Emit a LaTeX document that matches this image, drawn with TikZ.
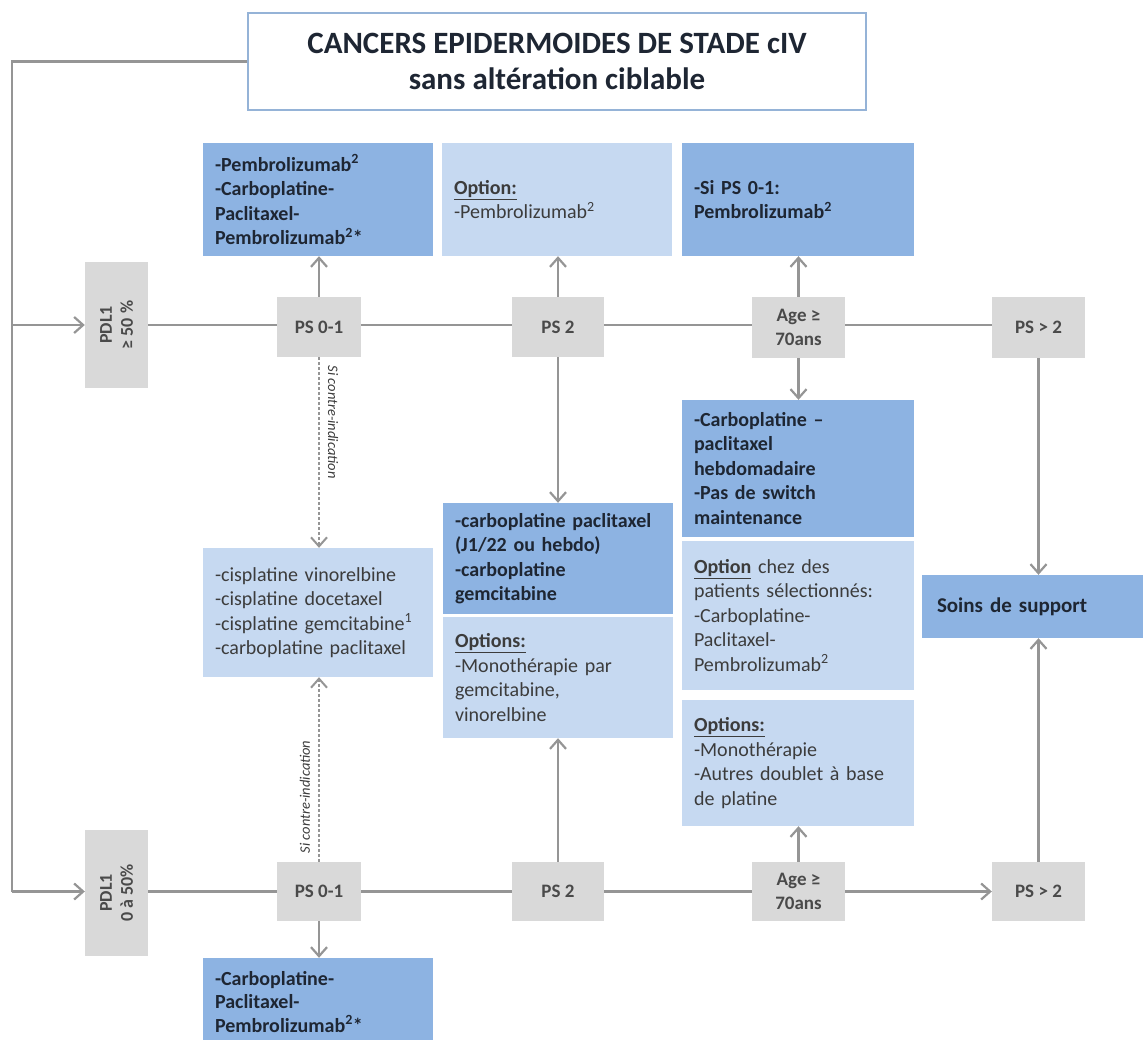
\documentclass[tikz,border=0pt]{standalone}
\usepackage{fontspec}
\setmainfont{Carlito}
\usetikzlibrary{arrows.meta}
\definecolor{dkblue}{HTML}{8DB3E2}
\definecolor{ltblue}{HTML}{C6D9F1}
\definecolor{boxgray}{HTML}{D9D9D9}
\definecolor{linegray}{HTML}{959595}
\definecolor{txtb}{HTML}{1E2633}
\definecolor{txtn}{HTML}{3C3C3C}
\definecolor{txtg}{HTML}{4A4A4A}
\definecolor{titleborder}{HTML}{95B3D7}
\tikzset{
  ln/.style={draw=linegray, line width=2.2pt},
  arr/.style={ln, -{Straight Barb[length=9pt,width=16pt]}},
  darr/.style={draw=linegray, line width=1.3pt, dash pattern=on 3pt off 2pt, -{Straight Barb[length=9pt,width=16pt,line width=2pt]}},
  gbox/.style={fill=boxgray, draw=none, inner sep=0pt, align=center, text=txtg,
    font=\bfseries\fontsize{19}{24}\selectfont},
  tbox/.style={draw=none, inner xsep=12pt, inner ysep=0pt, align=left, text=txtb,
    font=\fontsize{20}{24.5}\selectfont},
  dbox/.style={tbox, fill=dkblue, font=\bfseries\fontsize{20}{24.5}\selectfont},
  lbox/.style={tbox, fill=ltblue, text=txtn},
  rot/.style={font=\itshape\fontsize{14.5}{16}\selectfont, text=txtn, inner sep=0pt},
}
\newcommand{\sq}[1]{\textsuperscript{#1}}
\begin{document}
\begin{tikzpicture}[x=1pt,y=-1pt]
\useasboundingbox (0,0) rectangle (1143,1039);
\fill[white] (0,0) rectangle (1143,1039);

% title
\node[draw=titleborder, line width=1.8pt, fill=white, minimum width=618pt, minimum height=97pt,
  align=center, text=txtb, font=\bfseries\fontsize{31}{36}\selectfont] (title) at (557,61.5)
  {CANCERS EPIDERMOIDES DE STADE cIV\\sans altération ciblable};

% PDL1 boxes
\node[gbox, minimum width=63pt, minimum height=126pt] (pdlt) at (116.5,325) {};
\node[gbox, rotate=90, font=\bfseries\fontsize{18}{21}\selectfont] at (pdlt) {PDL1\\≥ 50 \%};
\node[gbox, minimum width=63pt, minimum height=126pt] (pdlb) at (116.5,893) {};
\node[gbox, rotate=90, font=\bfseries\fontsize{18}{21}\selectfont] at (pdlb) {PDL1\\0 à 50\%};

% top row gray boxes
\node[gbox, minimum width=84pt, minimum height=60pt] (pst) at (319,327) {PS 0-1};
\node[gbox, minimum width=92pt, minimum height=60pt] (pstwot) at (558,327) {PS 2};
\node[gbox, minimum width=93pt, minimum height=61pt] (aget) at (798.5,327.5) {Age ≥\\70ans};
\node[gbox, minimum width=93pt, minimum height=61pt] (psgt) at (1038.5,327.5) {PS > 2};

% bottom row gray boxes
\node[gbox, minimum width=84pt, minimum height=59pt] (psb) at (319,891.5) {PS 0-1};
\node[gbox, minimum width=92pt, minimum height=59pt] (pstwob) at (558,891.5) {PS 2};
\node[gbox, minimum width=93pt, minimum height=59pt] (ageb) at (798.5,891.5) {Age ≥\\70ans};
\node[gbox, minimum width=93pt, minimum height=59pt] (psgb) at (1038.5,891.5) {PS > 2};

% top treatment boxes
\node[dbox, text width=206pt, minimum height=113pt] (A) at (318,199.5)
  {-Pembrolizumab\sq{2}\\-Carboplatine-\\Paclitaxel-\\Pembrolizumab\sq{2}*};
\node[lbox, text width=206pt, minimum height=113pt] (B) at (557,199.5)
  {\textbf{\underline{Option:}}\\-Pembrolizumab\sq{2}};
\node[dbox, text width=208pt, minimum height=113pt] (C) at (798,199.5)
  {-Si PS 0-1:\\Pembrolizumab\sq{2}};

% middle boxes
\node[lbox, text width=206pt, minimum height=129pt] (D) at (318,612.5)
  {-cisplatine vinorelbine\\-cisplatine docetaxel\\-cisplatine gemcitabine\sq{1}\\-carboplatine paclitaxel};
\node[dbox, text width=206pt, minimum height=111pt] (E) at (558,558.5)
  {-carboplatine paclitaxel\\(J1/22 ou hebdo)\\-carboplatine\\gemcitabine};
\node[lbox, text width=206pt, minimum height=121pt] (F) at (558,677.5)
  {\textbf{\underline{Options:}}\\-Monothérapie par\\gemcitabine,\\vinorelbine};
\node[dbox, text width=208pt, minimum height=137pt] (G) at (798,468.5)
  {-Carboplatine --\\paclitaxel\\hebdomadaire\\-Pas de switch\\maintenance};
\node[lbox, text width=208pt, minimum height=149pt] (H) at (798,615.5)
  {\textbf{\underline{Option}} chez des\\patients sélectionnés:\\-Carboplatine-\\Paclitaxel-\\Pembrolizumab\sq{2}};
\node[lbox, text width=208pt, minimum height=126pt] (I) at (798,763)
  {\textbf{\underline{Options:}}\\-Monothérapie\\-Autres doublet à base\\de platine};
\node[dbox, inner xsep=15pt, text width=191pt, minimum height=63pt,
  font=\bfseries\fontsize{21}{24.5}\selectfont] (S) at (1032.5,606.5)
  {Soins de support};
\node[dbox, text width=206pt, minimum height=88pt, font=\bfseries\fontsize{20}{23.5}\selectfont] (J) at (318,1002)
  {-Carboplatine-\\Paclitaxel-\\Pembrolizumab\sq{2}*};

% left trunk
\coordinate (c1) at (12,61.5);
\coordinate (c2) at (12,325);
\coordinate (c3) at (12,891.5);
\draw[ln] (title.west) -- (c1) -- (c3);
\draw[arr] (c2) -- (c2 -| pdlt.west);
\draw[arr] (c3) -- (c3 -| pdlb.west);

% top horizontal
\draw[ln] (pdlt.east |- c2) -- (pst.west |- c2);
\draw[ln] (pst.east |- c2) -- (pstwot.west |- c2);
\draw[ln] (pstwot.east |- c2) -- (aget.west |- c2);
\draw[ln] (aget.east |- c2) -- (psgt.west |- c2);

% bottom horizontal
\draw[ln] (pdlb.east |- c3) -- (psb.west);
\draw[ln] (psb) -- (pstwob);
\draw[ln] (pstwob) -- (ageb);
\draw[arr] (ageb) -- (psgb);

% vertical connectors
\draw[arr] (pst.north) -- (pst.north |- A.south);
\draw[arr] (pstwot.north) -- (pstwot.north |- B.south);
\draw[arr] (aget.north) -- (aget.north |- C.south);
\draw[darr] (pst.south) -- (pst.south |- D.north);
\node[rot, rotate=-90] (lab1) at (333,422) {Si contre-indication};
\draw[arr] (pstwot.south) -- (pstwot.south |- E.north);
\draw[arr] (aget.south) -- (aget.south |- G.north);
\draw[arr] (psgt.south) -- (psgt.south |- S.north);
\draw[arr] (psgb.north) -- (psgb.north |- S.south);
\draw[darr] (psb.north) -- (psb.north |- D.south);
\node[rot, rotate=90] (lab2) at (305,797) {Si contre-indication};
\draw[arr] (pstwob.north) -- (pstwob.north |- F.south);
\draw[arr] (ageb.north) -- (ageb.north |- I.south);
\draw[arr] (psb.south) -- (psb.south |- J.north);
\end{tikzpicture}
\end{document}
